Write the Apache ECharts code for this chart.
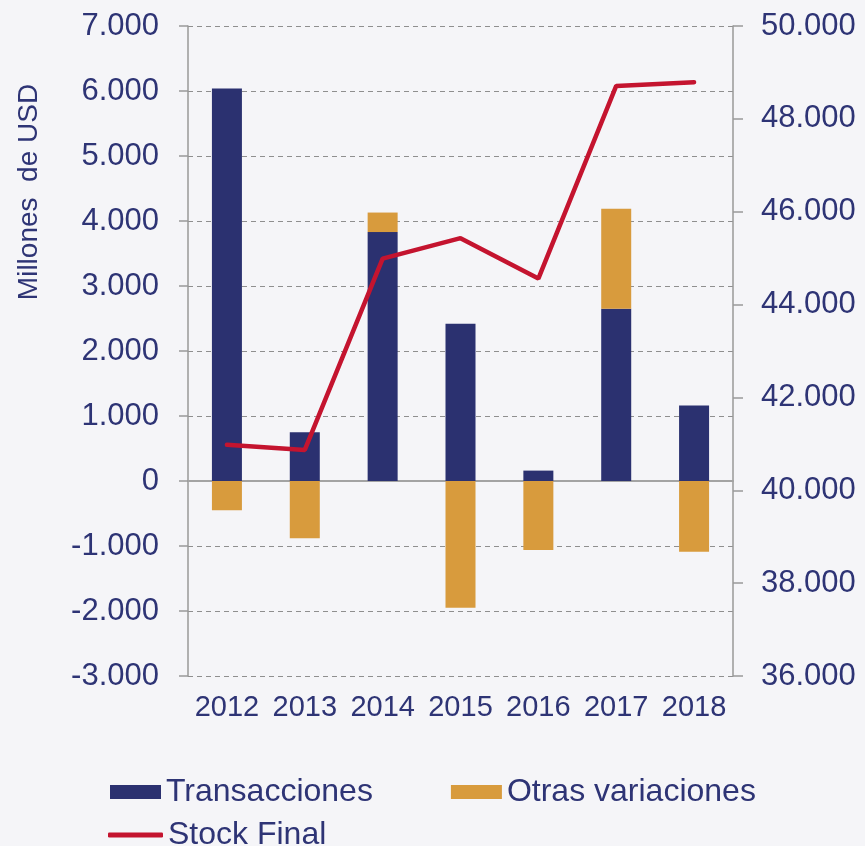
<!DOCTYPE html>
<html>
<head>
<meta charset="utf-8">
<script src="https://cdn.jsdelivr.net/npm/echarts@6/dist/echarts.min.js"></script>
<style>
  html, body { margin: 0; padding: 0; background: #f5f5f8; }
  #chart { width: 865px; height: 846px; }
</style>
</head>
<body>
<div id="chart"></div>
<script>
// datos
var years = ['2012', '2013', '2014', '2015', '2016', '2017', '2018'];
var transacciones = [6040, 750, 3830, 2420, 160, 2650, 1160];
var otrasVariaciones = [-450, -880, 300, -1950, -1060, 1540, -1090];
var stockFinal = [40980, 40870, 44990, 45430, 44560, 48710, 48790];

var navy = '#2b3170';
var ocre = '#d89b3d';
var rojo = '#c4142f';
var texto = '#2e3475';
var fuente = "'Liberation Sans', Arial, sans-serif";

// separador de miles con punto
function miles(v) {
    if (v === 0) return '0';
    var s = String(Math.abs(v)).replace(/\B(?=(\d{3})+(?!\d))/g, '.');
    return (v < 0 ? '-' : '') + s;
}

var myChart = echarts.init(document.getElementById('chart'));

var option = {
    backgroundColor: '#f5f5f8',
    animation: false,
    textStyle: { fontFamily: fuente, color: texto },
    grid: { left: 188, right: 132, top: 26, bottom: 170 },
    graphic: [{
        type: 'text',
        x: 29,
        y: 192,
        rotation: Math.PI / 2,
        style: {
            text: 'Millones  de USD',
            font: '28px ' + fuente,
            fill: texto,
            textAlign: 'center',
            textVerticalAlign: 'middle'
        }
    }],
    legend: [{
        data: [
            { name: 'Transacciones', icon: 'rect' },
            { name: 'Otras variaciones', icon: 'rect' }
        ],
        left: 110,
        top: 776,
        padding: 0,
        itemWidth: 51,
        itemHeight: 14,
        itemGap: 78,
        textStyle: { fontSize: 32, color: texto, fontFamily: fuente }
    }, {
        data: [{ name: 'Stock Final', icon: 'roundRect' }],
        left: 108,
        top: 819,
        padding: 0,
        itemWidth: 55,
        itemHeight: 5,
        textStyle: { fontSize: 32, color: texto, fontFamily: fuente }
    }],
    xAxis: [{
        type: 'category',
        data: years,
        axisLine: { onZero: true, lineStyle: { color: '#a3a3a3', width: 2 } },
        axisTick: { length: 9, lineStyle: { color: '#a3a3a3', width: 1.5 } },
        axisLabel: { show: false }
    }, {
        type: 'category',
        data: years,
        position: 'bottom',
        axisLine: { show: false, onZero: false },
        axisTick: { show: false },
        axisLabel: { interval: 0, margin: 17, fontSize: 29, color: texto }
    }],
    yAxis: [{
        type: 'value',
        min: -3000,
        max: 7000,
        interval: 1000,
        axisLine: { show: true, lineStyle: { color: '#999', width: 1.5 } },
        axisTick: { show: true, length: 9, lineStyle: { color: '#999', width: 1.5 } },
        axisLabel: { margin: 29, fontSize: 31, color: texto, formatter: miles },
        splitLine: { lineStyle: { color: '#8f8f8f', type: [5, 4], width: 1 } }
    }, {
        type: 'value',
        min: 36000,
        max: 50000,
        interval: 2000,
        position: 'right',
        axisLine: { show: true, lineStyle: { color: '#999', width: 1.5 } },
        axisTick: { show: true, length: 10, lineStyle: { color: '#999', width: 1.5 } },
        axisLabel: { margin: 28, fontSize: 31, color: texto, formatter: miles },
        splitLine: { show: false }
    }],
    series: [{
        name: 'Transacciones',
        type: 'bar',
        stack: 'total',
        barWidth: 30,
        itemStyle: { color: navy },
        data: transacciones
    }, {
        name: 'Otras variaciones',
        type: 'bar',
        stack: 'total',
        barWidth: 30,
        itemStyle: { color: ocre },
        data: otrasVariaciones
    }, {
        name: 'Stock Final',
        type: 'line',
        yAxisIndex: 1,
        symbol: 'none',
        lineStyle: { color: rojo, width: 4.5, cap: 'round' },
        itemStyle: { color: rojo },
        data: stockFinal
    }]
};
myChart.setOption(option);
</script>
</body>
</html>
